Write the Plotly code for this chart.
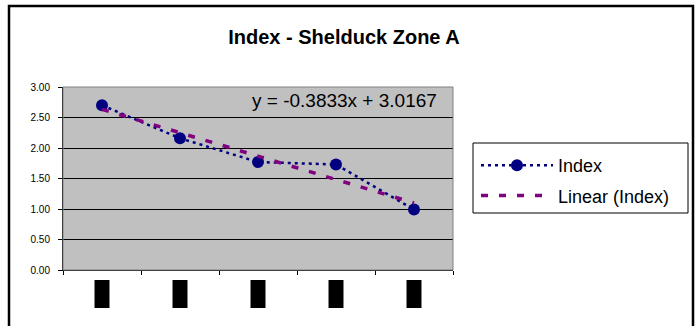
import plotly.graph_objects as go

# ---- data ----
categories = [1, 2, 3, 4, 5]
index_values = [2.70, 2.16, 1.77, 1.73, 0.99]
trend_slope = -0.3833
trend_intercept = 3.0167
y_ticks = [0.0, 0.5, 1.0, 1.5, 2.0, 2.5, 3.0]
y_tick_labels = ["0.00", "0.50", "1.00", "1.50", "2.00", "2.50", "3.00"]
title_text = "<b>Index - Shelduck Zone A</b>"
equation_text = "y = -0.3833x + 3.0167"

trend_values = [trend_slope * c + trend_intercept for c in categories]

FONT = "Arial, Liberation Sans, sans-serif"

# plot area in px
L, R, T, B = 63, 453, 87, 270
W, H = 700, 326
pw, ph = R - L, B - T

def px(xp):
    return (xp - L) / pw

def py(yp):
    return (B - yp) / ph

fig = go.Figure()

fig.add_trace(go.Scatter(
    x=categories, y=index_values, name="Index", mode="lines+markers",
    line=dict(color="#000080", width=2.5, dash="3px,4px"),
    marker=dict(color="#000080", size=12, symbol="circle"),
    legendgroup="a",
))
fig.add_trace(go.Scatter(
    x=categories, y=trend_values, name="Linear (Index)", mode="lines",
    line=dict(color="#800080", width=3.5, dash="7px,11px"),
    legendgroup="b",
))

shapes = []
# outer chart border
shapes.append(dict(type="rect", xref="paper", yref="paper",
                   x0=px(9), x1=px(693), y0=py(360), y1=py(6),
                   line=dict(color="black", width=2.5), fillcolor="rgba(0,0,0,0)", layer="above"))
# plot area border (gray)
shapes.append(dict(type="rect", xref="paper", yref="paper",
                   x0=0, x1=1, y0=0, y1=1,
                   line=dict(color="#808080", width=1), fillcolor="rgba(0,0,0,0)", layer="above"))
# legend frame
shapes.append(dict(type="rect", xref="paper", yref="paper",
                   x0=px(473), x1=px(688), y0=py(213), y1=py(143),
                   line=dict(color="black", width=1), fillcolor="rgba(0,0,0,0)", layer="above"))
# redaction boxes over x labels
for c in categories:
    shapes.append(dict(type="rect", xref="x", yref="paper",
                       x0=c - 0.096, x1=c + 0.096, y0=py(308), y1=py(280),
                       line=dict(width=0), fillcolor="black", layer="above"))

fig.update_layout(
    width=W, height=H,
    margin=dict(l=L, r=W - R, t=T, b=H - B),
    paper_bgcolor="white",
    plot_bgcolor="#c0c0c0",
    font=dict(family=FONT, color="black"),
    title=dict(text=title_text, x=px(344), xref="paper", xanchor="center",
               y=1 - 37 / H, yref="container", yanchor="middle",
               font=dict(size=20, family=FONT, color="black")),
    xaxis=dict(range=[0.5, 5.5], tickvals=[0.5, 1.5, 2.5, 3.5, 4.5, 5.5],
               showticklabels=False, ticks="outside", ticklen=4, tickcolor="black",
               showline=True, linecolor="black", linewidth=1,
               showgrid=False, zeroline=False),
    yaxis=dict(range=[0, 3], tickvals=y_ticks, ticktext=y_tick_labels,
               ticks="outside", ticklen=4, tickcolor="black",
               tickfont=dict(size=10, family=FONT, color="black"),
               showline=True, linecolor="black", linewidth=1,
               showgrid=True, gridcolor="black", gridwidth=1, zeroline=False,
               ticklabelstandoff=6),
    legend=dict(x=px(476), y=py(147), xanchor="left", yanchor="top",
                borderwidth=0, bgcolor="rgba(0,0,0,0)",
                font=dict(size=18, family=FONT, color="black"),
                itemwidth=72, tracegroupgap=4),
    annotations=[dict(text=equation_text, xref="paper", yref="paper",
                      x=px(344.5), y=py(100), xanchor="center", yanchor="middle",
                      showarrow=False, font=dict(size=19, family=FONT, color="black"))],
    shapes=shapes,
    showlegend=True,
)

fig.write_html("out.html")
